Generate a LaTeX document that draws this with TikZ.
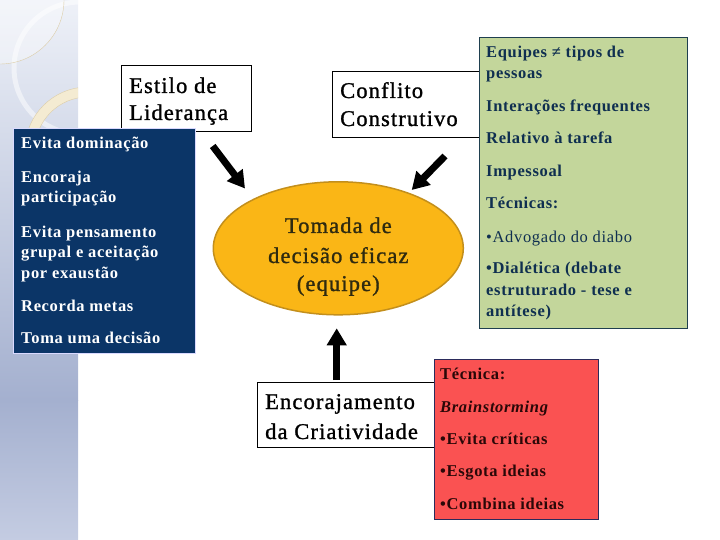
\documentclass[tikz,border=0pt]{standalone}
\usepackage{fontspec}
\setmainfont{Liberation Serif}
\newfontfamily\wideserif[LetterSpace=5, FakeBold=1.2]{Liberation Serif}
\newfontfamily\listserif[LetterSpace=4]{Liberation Serif}
\usepackage{tikz}
\usetikzlibrary{arrows.meta, shapes.geometric}

\begin{document}
\begin{tikzpicture}[x=1pt, y=-1pt,
  headbox/.style={draw=black, fill=white, line width=0.8pt, anchor=north west, inner sep=0pt},
  headtxt/.style={anchor=base west, inner sep=0pt, font=\wideserif\fontsize{22.5}{27}\selectfont},
  listtxt/.style={anchor=base west, inner sep=0pt, font=\listserif\bfseries\fontsize{16.5}{20}\selectfont},
  bigarrow/.style={line width=7pt, -{Triangle[length=17pt, width=19pt]}}]

\definecolor{stripTop}{HTML}{EEF1F8}
\definecolor{stripMid}{HTML}{A4B0CF}
\definecolor{stripBot}{HTML}{C4CCE2}
\definecolor{ringTan}{HTML}{DCCDA8}
\definecolor{ringCream}{HTML}{F4EBD2}
\definecolor{leadBlue}{HTML}{0B3567}
\definecolor{confGreen}{HTML}{C3D69B}
\definecolor{confEdge}{HTML}{1F3F4F}
\definecolor{confInk}{HTML}{0F2F50}
\definecolor{brainRed}{HTML}{FA5252}
\definecolor{brainEdge}{HTML}{2B2B5B}
\definecolor{brainInk}{HTML}{2A0808}
\definecolor{goalFill}{HTML}{FAB616}
\definecolor{goalEdge}{HTML}{C38F1C}
\definecolor{goalInk}{HTML}{2E2A10}

\useasboundingbox (0,0) rectangle (720,540);

% left strip
\shade[top color=stripTop, bottom color=stripMid] (0,0) rectangle (78,400);
\shade[top color=stripMid, bottom color=stripBot] (0,400) rectangle (78,540);
\begin{scope}
  \clip (0,0) rectangle (78,540);
  \fill[white, opacity=0.35] (0,0) circle (64);
  \draw[white, line width=5pt, opacity=0.5] (80,68) circle (66);
  \draw[ringTan, thin] (0,0) circle (64);
  \draw[ringCream, line width=10pt] (88,150) circle (58);
  \draw[ringTan, thin] (88,150) circle (63);
  \draw[ringTan, thin] (88,150) circle (53);
\end{scope}

% ===== Estilo de Lideranca =====
\node[headbox, minimum width=130pt, minimum height=66.5pt] (lid) at (121,65) {};
\node[headtxt] (lid1) at (129,93) {Estilo de};
\node[headtxt] (lid2) at (129,120) {Liderança};

% ===== Conflito Construtivo =====
\node[headbox, minimum width=147pt, minimum height=65.5pt] (conf) at (331.5,71.5) {};
\node[headtxt] (conf1) at (340,98) {Conflito};
\node[headtxt] (conf2) at (340,126) {Construtivo};

% ===== blue list =====
\node[fill=leadBlue, draw=white!85!blue, thin, anchor=north west, inner sep=0pt,
  minimum width=182pt, minimum height=224.5pt] (lead) at (13,128.3) {};
\foreach \y/\t [count=\i] in {149/Evita dominação, 183/Encoraja, 203/participação,
  237/Evita pensamento, 257/grupal e aceitação, 278/por exaustão,
  311/Recorda metas, 343/Toma uma decisão}
  \node[listtxt, white] (lead\i) at (21,\y) {\t};

% ===== green list =====
\node[fill=confGreen, draw=confEdge, line width=0.8pt, anchor=north west, inner sep=0pt,
  minimum width=207.5pt, minimum height=290.5pt] (tech) at (479.3,37.3) {};
\foreach \y/\t [count=\i] in {58/Equipes ≠ tipos de, 79/pessoas, 112/Interações frequentes,
  144/Relativo à tarefa, 177/Impessoal, 209/Técnicas:,
  242/{\mdseries\textbullet Advogado do diabo}, 273/\textbullet Dialética (debate,
  295/estruturado - tese e, 316/antítese)}
  \node[listtxt, confInk] (tech\i) at (486,\y) {\t};

% ===== ellipse =====
\node[ellipse, fill=goalFill, draw=goalEdge, line width=1.5pt, inner sep=0pt,
  minimum width=250pt, minimum height=133pt] (goal) at (338.3,248.3) {};
\node[headtxt, goalInk, anchor=base] (goal1) at (338.3,233) {Tomada de};
\node[headtxt, goalInk, anchor=base] (goal2) at (338.3,263) {decisão eficaz};
\node[headtxt, goalInk, anchor=base] (goal3) at (338.3,291) {(equipe)};

% ===== Encorajamento da Criatividade =====
\node[headbox, minimum width=177pt, minimum height=65pt] (crea) at (257,382) {};
\node[headtxt] (crea1) at (265,409) {Encorajamento};
\node[headtxt] (crea2) at (265,439) {da Criatividade};

% ===== red list =====
\node[fill=brainRed, draw=brainEdge, line width=0.8pt, anchor=north west, inner sep=0pt,
  minimum width=164pt, minimum height=160pt] (brain) at (433.5,359.3) {};
\foreach \y/\t [count=\i] in {379/Técnica:, 412/{\itshape Brainstorming},
  444/\textbullet Evita críticas, 476/\textbullet Esgota ideias, 509/\textbullet Combina ideias}
  \node[listtxt, brainInk] (brain\i) at (440,\y) {\t};

% arrows
\coordinate (lidTail) at (212.7,146);
\coordinate (lidTip) at (245,188.5);
\coordinate (confTail) at (445,156);
\coordinate (confTip) at (411.7,190);
\coordinate (creaTail) at (336.7,380);
\coordinate (creaTip) at (336.7,328.3);
\draw[bigarrow] (lidTail) -- (lidTip);
\draw[bigarrow] (confTail) -- (confTip);
\draw[bigarrow] (creaTail) -- (creaTip);

\end{tikzpicture}
\end{document}
